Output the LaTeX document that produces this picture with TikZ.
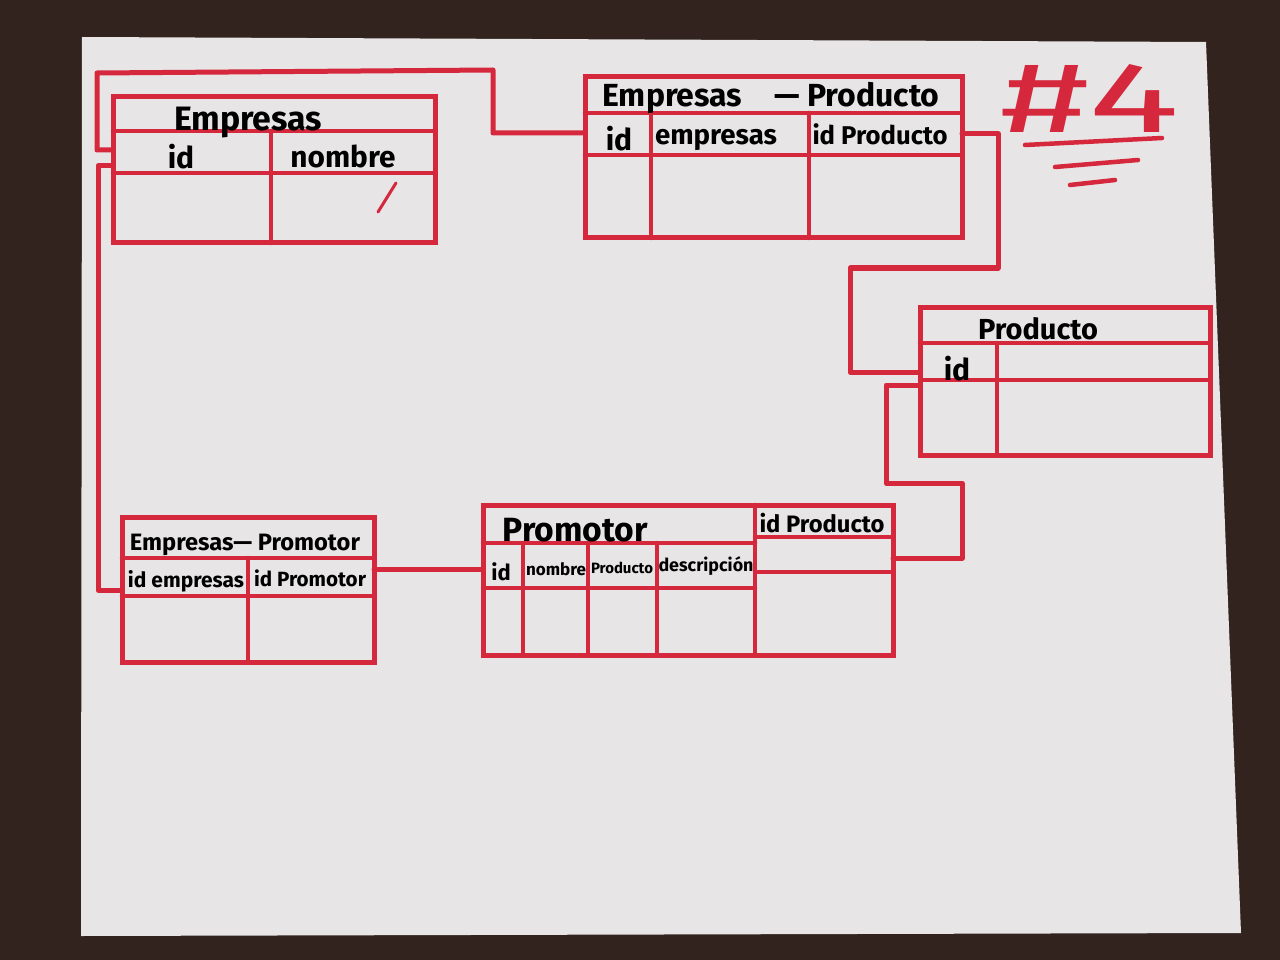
\documentclass[tikz,border=0pt]{standalone}
\usepackage{fontspec}
\setmainfont{Fira Sans}
\usepackage{graphicx}
\definecolor{marker}{RGB}{214,40,60}
\definecolor{bgbrown}{RGB}{50,35,30}
\definecolor{paper}{RGB}{231,229,230}
\newcommand{\fw}[2]{\resizebox{#1pt}{!}{#2}}
\newcommand{\fsz}[2]{{\fontsize{#1pt}{#1pt}\selectfont #2}}
\begin{document}
\begin{tikzpicture}[x=1pt,y=-1pt,
  tbl/.style={draw=marker, line width=5pt, inner sep=0pt, outer sep=0pt, rectangle},
  gridline/.style={draw=marker, line width=4.5pt, line cap=round},
  link/.style={draw=marker, line width=5pt, line join=round, line cap=round},
  lbl/.style={text=black, font=\bfseries, inner sep=0pt}]
\useasboundingbox (0,0) rectangle (1280,960);
\fill[bgbrown] (0,0) rectangle (1280,960);
\fill[paper] (82,37) -- (1206,42) -- (1241,933) -- (81,936) -- cycle;

% ---- tables ----
\node[tbl, minimum width=322pt, minimum height=146pt] (E) at (274,170) {};
\node[tbl, minimum width=377pt, minimum height=161pt] (EP) at (773.5,157.5) {};
\node[tbl, minimum width=290pt, minimum height=148pt] (P) at (1065,381) {};
\node[tbl, minimum width=252pt, minimum height=145pt] (EPr) at (248,589.5) {};
\node[tbl, minimum width=410pt, minimum height=150pt] (Pr) at (688,580) {};

% Empresas internals
\draw[gridline] (113,131) -- (435,131);
\draw[gridline] (113,173) -- (435,173);
\draw[gridline] (271,131) -- (271,243);
\draw[marker, line width=3pt, line cap=round] (378,212) -- (396,183);
% Empresas - Producto internals
\draw[gridline] (585,113) -- (962,113);
\draw[gridline] (585,155) -- (962,155);
\draw[gridline] (651,113) -- (651,238);
\draw[gridline] (809,113) -- (809,238);
% Producto internals
\draw[gridline] (920,343) -- (1210,343);
\draw[gridline] (920,380) -- (1210,380);
\draw[gridline] (997,343) -- (997,455);
% Empresas - Promotor internals
\draw[gridline] (122,558) -- (374,558);
\draw[gridline] (122,596) -- (374,596);
\draw[gridline] (248,558) -- (248,662);
% Promotor internals
\draw[gridline] (755,505) -- (755,655);
\draw[gridline] (483,543) -- (755,543);
\draw[gridline] (755,537) -- (893,537);
\draw[gridline] (483,588) -- (755,588);
\draw[gridline] (755,572) -- (893,572);
\draw[gridline] (523,543) -- (523,655);
\draw[gridline] (588,543) -- (588,655);
\draw[gridline] (657,543) -- (657,655);

% ---- connectors ----
\draw[link] (E.west |- 0,150) -- (97,150) -- (97,73) -- (493,70) -- (493,133) -- (EP.west |- 0,133);
\draw[link] (E.west |- 0,166) -- (98,166) -- (98,590) -- (EPr.west |- 0,590);
\draw[link] (EP.east |- 0,134) -- (998,134) -- (998,268) -- (850,268) -- (850,372) -- (P.west |- 0,372);
\draw[link] (P.west |- 0,385) -- (886,385) -- (886,483) -- (962,483) -- (962,558) -- (Pr.east |- 0,558);
\draw[link] (EPr.east |- 0,569) -- (Pr.west |- 0,569);

% ---- labels ----
\node[lbl] (tE) at (248,123) {\fw{148}{Empresas}};
\node[lbl] (tEid) at (181,157) {\fsz{30}{id}};
\node[lbl] (tEnom) at (343,156) {\fw{105}{nombre}};

\node[lbl] (tEP) at (771,98) {\fw{337}{Empresas\quad — Producto}};
\node[lbl] (tEPid) at (619,139) {\fsz{30}{id}};
\node[lbl] (tEPemp) at (716,140) {\fw{122}{empresas}};
\node[lbl] (tEPpr) at (880,134) {\fw{135}{id Producto}};

\node[lbl] (tP) at (1038,329) {\fw{120}{Producto}};
\node[lbl] (tPid) at (957,369) {\fsz{30}{id}};

\node[lbl] (tEPr) at (245,545) {\fw{230}{Empresas— Promotor}};
\node[lbl] (tEPre) at (186,581) {\fw{116}{id empresas}};
\node[lbl] (tEPrp) at (310,578) {\fw{112}{id Promotor}};

\node[lbl] (tPr) at (575,530) {\fw{145}{Promotor}};
\node[lbl] (tPrpr) at (822,523) {\fw{125}{id Producto}};
\node[lbl] (tPrid) at (501,572) {\fsz{22}{id}};
\node[lbl] (tPrnom) at (556,569) {\fw{60}{nombre}};
\node[lbl] (tPrprod) at (622,568) {\fw{62}{Producto}};
\node[lbl] (tPrdesc) at (706,566) {\fw{95}{descripción}};

% ---- #4 ----
\node[text=marker, font=\mdseries, inner sep=0pt] (num) at (1090,98) {\resizebox{180pt}{68pt}{\#4}};
\draw[link, line width=4.5pt] (1025,145) -- (1162,138);
\draw[link, line width=4.5pt] (1055,167) -- (1138,160);
\draw[link, line width=4.5pt] (1070,185) -- (1115,180);
\end{tikzpicture}
\end{document}
